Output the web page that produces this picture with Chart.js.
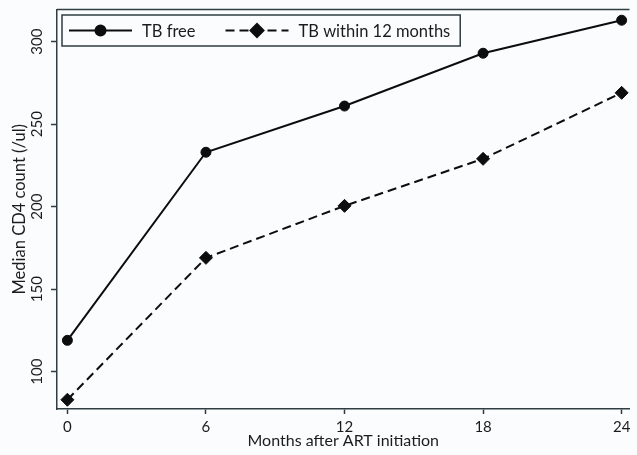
<!DOCTYPE html>
<html>
<head>
<meta charset="utf-8">
<script src="https://cdn.jsdelivr.net/npm/chart.js@4.4.1/dist/chart.umd.min.js"></script>
<style>
  html, body { margin: 0; padding: 0; background: #fbfcfe; }
  #wrap { width: 637px; height: 455px; }
</style>
</head>
<body>
<div id="wrap"><canvas id="cd4Chart"></canvas></div>
<script>
(function () {
  "use strict";

  // data
  const months = [0, 6, 12, 18, 24];
  const tbFree = [119, 233, 261, 293, 313];
  const tbWithin12 = [83, 169, 200.5, 229, 269];
  const yTicks = [100, 150, 200, 250, 300];
  const seriesNames = ["TB free", "TB within 12 months"];

  const ink = "#0d0d0d";
  const axisColor = "#2f3d42";
  const textColor = "#1c1c1c";
  const bg = "#fbfcfe";
  const fontFamily = "Lato, 'Noto Sans', sans-serif";

  function toPoints(ys) {
    return months.map((m, i) => ({ x: m, y: ys[i] }));
  }

  // top frame line, rotated y tick labels and the boxed legend
  const extras = {
    id: "extras",
    afterDraw(chart) {
      const { ctx, chartArea: a, scales } = chart;
      ctx.save();

      ctx.strokeStyle = axisColor;
      ctx.lineWidth = 1.5;
      ctx.beginPath();
      ctx.moveTo(a.left, a.top);
      ctx.lineTo(a.right, a.top);
      ctx.stroke();

      ctx.fillStyle = textColor;
      ctx.font = "15px " + fontFamily;
      ctx.textAlign = "center";
      ctx.textBaseline = "middle";
      yTicks.forEach(v => {
        ctx.save();
        ctx.translate(37, scales.y.getPixelForValue(v));
        ctx.rotate(-Math.PI / 2);
        ctx.fillText(String(v), 0, 0);
        ctx.restore();
      });

      // legend
      const bx = a.left + 5, by = a.top + 5.5, bh = 31;
      const sample = 63;
      ctx.font = "16.5px " + fontFamily;
      let x = bx + 7;
      const layout = chart.data.datasets.map(ds => {
        const item = { ds, x0: x, tx: x + sample + 10 };
        x = item.tx + ctx.measureText(ds.label).width + 30;
        return item;
      });
      const bw = x - 30 + 10 - bx;
      ctx.fillStyle = bg;
      ctx.fillRect(bx, by, bw, bh);
      ctx.strokeStyle = axisColor;
      ctx.lineWidth = 1.5;
      ctx.strokeRect(bx, by, bw, bh);

      const cy = by + bh / 2;
      layout.forEach(it => {
        const ds = it.ds;
        ctx.strokeStyle = ds.borderColor;
        ctx.lineWidth = ds.borderWidth;
        ctx.setLineDash(ds.borderDash || []);
        ctx.beginPath();
        ctx.moveTo(it.x0, cy);
        ctx.lineTo(it.x0 + sample, cy);
        ctx.stroke();
        ctx.setLineDash([]);
        ctx.fillStyle = ds.pointBackgroundColor;
        ctx.strokeStyle = ds.pointBorderColor;
        Chart.helpers.drawPoint(ctx, {
          pointStyle: ds.pointStyle,
          radius: ds.pointRadius,
          borderWidth: 1,
          rotation: 0
        }, it.x0 + sample / 2, cy);
        ctx.fillStyle = textColor;
        ctx.textAlign = "left";
        ctx.fillText(ds.label, it.tx, cy + 1);
      });
      ctx.restore();
    }
  };

  document.addEventListener("DOMContentLoaded", function () {
    const el = document.getElementById("cd4Chart");

    new Chart(el, {
      type: "line",
      data: {
        datasets: [
          {
            label: seriesNames[0],
            data: toPoints(tbFree),
            borderColor: ink,
            backgroundColor: ink,
            borderWidth: 2,
            pointStyle: "circle",
            pointRadius: 5,
            pointBorderWidth: 1,
            pointBackgroundColor: ink,
            pointBorderColor: ink,
            tension: 0
          },
          {
            label: seriesNames[1],
            data: toPoints(tbWithin12),
            borderColor: ink,
            backgroundColor: ink,
            borderWidth: 2,
            borderDash: [9, 5],
            pointStyle: "rectRot",
            pointRadius: 6.5,
            pointBorderWidth: 1,
            pointBackgroundColor: ink,
            pointBorderColor: ink,
            tension: 0
          }
        ]
      },
      options: {
        responsive: true,
        maintainAspectRatio: false,
        animation: false,
        layout: { padding: { top: 9.5, right: 0, bottom: 0, left: 0 } },
        plugins: {
          legend: { display: false },
          tooltip: { enabled: false }
        },
        scales: {
          x: {
            type: "linear",
            min: -0.45,
            max: 24.34,
            afterBuildTicks: s => { s.ticks = months.map(v => ({ value: v })); },
            afterFit: s => { s.height = 46; },
            grid: {
              display: true,
              drawOnChartArea: false,
              drawTicks: true,
              tickLength: 5,
              tickWidth: 1.5,
              tickColor: axisColor
            },
            border: { display: true, color: axisColor, width: 1.5 },
            ticks: {
              color: textColor,
              padding: 4,
              maxRotation: 0,
              font: { family: fontFamily, size: 15 }
            },
            title: {
              display: true,
              text: "Months after ART initiation",
              color: textColor,
              padding: { top: 0, bottom: 5 },
              font: { family: fontFamily, size: 16 }
            }
          },
          y: {
            min: 77.4,
            max: 319.5,
            afterBuildTicks: s => { s.ticks = yTicks.map(v => ({ value: v })); },
            afterFit: s => { s.width = 57; },
            grid: {
              display: true,
              drawOnChartArea: false,
              drawTicks: true,
              tickLength: 6,
              tickWidth: 1.5,
              tickColor: axisColor
            },
            border: { display: true, color: axisColor, width: 1.5 },
            ticks: { display: false },
            title: {
              display: true,
              text: "Median CD4 count (/ul)",
              color: textColor,
              padding: { top: 10, bottom: 0 },
              font: { family: fontFamily, size: 16.5 }
            }
          }
        }
      },
      plugins: [extras]
    });
  });
})();
</script>
</body>
</html>
